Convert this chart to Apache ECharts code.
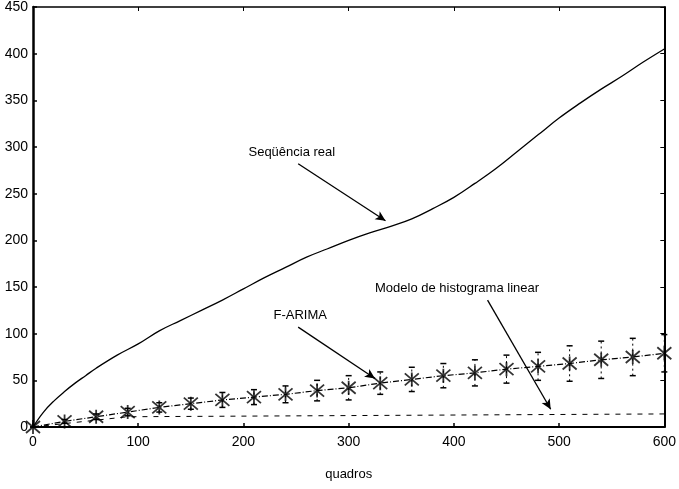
<!DOCTYPE html>
<html>
<head>
<meta charset="utf-8">
<script src="https://cdn.jsdelivr.net/npm/echarts@6/dist/echarts.min.js"></script>
<style>
  html, body { margin: 0; padding: 0; background: #fff; }
  #chart { width: 679px; height: 489px; }
</style>
</head>
<body>
<div id="chart"></div>
<script>
// sequencia real
var realX = [0, 10, 20, 30, 40, 50, 60, 80, 100, 120, 140, 160, 180, 200, 220, 240, 260, 280, 300,
             320, 340, 360, 380, 400, 420, 440, 460, 480, 500, 520, 540, 560, 580, 600];
var realY = [0, 16, 28, 38, 47, 55, 63, 77, 89, 103, 114, 125, 136, 148, 160, 171, 182, 191, 200,
             208, 215, 223, 234, 246, 261, 277, 295, 313, 331, 347, 362, 376, 391, 405];

// F-ARIMA points and error bar half-widths
var arimaX = [0, 30, 60, 90, 120, 150, 180, 210, 240, 270, 300, 330, 360, 390, 420, 450, 480, 510, 540, 570, 600];
var arimaY = [0, 6, 11, 16, 21, 25, 29, 32, 35, 39, 42, 47, 51, 55, 58, 62, 65, 68, 72, 75, 79];
var arimaErr = [0, 2, 3, 4, 5, 6, 8, 8, 9, 11, 13, 12, 13, 13, 14, 15, 15, 19, 20, 20, 20];

// modelo de histograma linear
var histX = [0, 90, 600];
var histY = [0, 11, 14];

var chart = echarts.init(document.getElementById('chart'));

function pairs(xs, ys) {
  var out = [];
  for (var i = 0; i < xs.length; i++) out.push([xs[i], ys[i]]);
  return out;
}

var errData = [];
for (var i = 0; i < arimaX.length; i++) {
  errData.push([arimaX[i], arimaY[i] - arimaErr[i], arimaY[i] + arimaErr[i]]);
}

var font = 'Liberation Sans, Arial, sans-serif';
var arrowStyle = { color: '#000', width: 1.3, type: 'solid' };

chart.setOption({
  animation: false,
  backgroundColor: '#fff',
  grid: { left: 33, right: 12, top: 7, bottom: 62, show: false },
  xAxis: [{
    type: 'value', min: 0, max: 600, interval: 100,
    name: 'quadros', nameLocation: 'middle', nameGap: 41,
    nameTextStyle: { fontFamily: font, fontSize: 13, color: '#000' },
    axisLine: { show: true, onZero: false, lineStyle: { color: '#000', width: 2 } },
    axisTick: { show: true, inside: true, length: 4, lineStyle: { color: '#000', width: 1.5 } },
    axisLabel: { fontFamily: font, fontSize: 14, color: '#000', margin: 8 },
    splitLine: { show: false }
  }, {
    type: 'value', min: 0, max: 600, interval: 100, position: 'top',
    axisLine: { show: true, onZero: false, lineStyle: { color: '#000', width: 1.5 } },
    axisTick: { show: true, inside: true, length: 4, lineStyle: { color: '#000' } },
    axisLabel: { show: false }, splitLine: { show: false }
  }],
  yAxis: [{
    type: 'value', min: 0, max: 450, interval: 50,
    axisLine: { show: true, onZero: false, lineStyle: { color: '#000', width: 2.5 } },
    axisTick: { show: true, inside: true, length: 4, lineStyle: { color: '#000', width: 1.5 } },
    axisLabel: { fontFamily: font, fontSize: 14, color: '#000', margin: 5 },
    splitLine: { show: false }
  }, {
    type: 'value', min: 0, max: 450, interval: 50, position: 'right',
    axisLine: { show: true, onZero: false, lineStyle: { color: '#000', width: 2 } },
    axisTick: { show: true, inside: true, length: 4, lineStyle: { color: '#000' } },
    axisLabel: { show: false }, splitLine: { show: false }
  }],
  series: [{
    name: 'Sequência real',
    type: 'line',
    data: pairs(realX, realY),
    symbol: 'none',
    smooth: 0.4,
    lineStyle: { color: '#000', width: 1.3 },
    markLine: {
      silent: true,
      symbol: ['none', 'arrow'],
      symbolSize: [7, 10],
      label: { show: false },
      lineStyle: arrowStyle,
      data: [
        [{ coord: [252, 282] }, { coord: [335, 221] }],
        [{ coord: [252, 107] }, { coord: [325, 52] }],
        [{ coord: [432, 136] }, { coord: [492, 19] }]
      ]
    },
    markPoint: {
      silent: true,
      symbol: 'circle',
      symbolSize: 0,
      label: { show: true, position: 'inside', formatter: '{b}', fontFamily: font, fontSize: 13, color: '#000' },
      data: [
        { name: 'Seqüência real', coord: [246, 294] },
        { name: 'F-ARIMA', coord: [254, 120] },
        { name: 'Modelo de histograma linear', coord: [403, 148] }
      ]
    }
  }, {
    name: 'Histograma linear',
    type: 'line',
    data: pairs(histX, histY),
    symbol: 'none',
    lineStyle: { color: '#000', width: 1, type: [5, 6] }
  }, {
    name: 'F-ARIMA linha',
    type: 'line',
    data: pairs(arimaX, arimaY),
    symbol: 'none',
    lineStyle: { color: '#000', width: 1.2, type: [6, 2, 1, 2] }
  }, {
    name: 'F-ARIMA erro',
    type: 'custom',
    data: errData,
    renderItem: function (params, api) {
      var lo = api.coord([api.value(0), api.value(1)]);
      var hi = api.coord([api.value(0), api.value(2)]);
      var w = 3;
      return {
        type: 'group',
        children: [{
          type: 'line',
          shape: { x1: lo[0], y1: lo[1], x2: hi[0], y2: hi[1] },
          style: { stroke: '#000', lineWidth: 1, lineDash: [2, 3] }
        }, {
          type: 'line',
          shape: { x1: lo[0] - w, y1: lo[1], x2: lo[0] + w, y2: lo[1] },
          style: { stroke: '#000', lineWidth: 1.5 }
        }, {
          type: 'line',
          shape: { x1: hi[0] - w, y1: hi[1], x2: hi[0] + w, y2: hi[1] },
          style: { stroke: '#000', lineWidth: 1.5 }
        }]
      };
    }
  }, {
    name: 'F-ARIMA',
    type: 'scatter',
    data: pairs(arimaX, arimaY),
    symbol: 'path://M0 0L12 12M12 0L0 12M6 -1L6 13',
    symbolSize: 14,
    itemStyle: { color: 'transparent', borderColor: '#000', borderWidth: 1.8 }
  }]
});
</script>
</body>
</html>
